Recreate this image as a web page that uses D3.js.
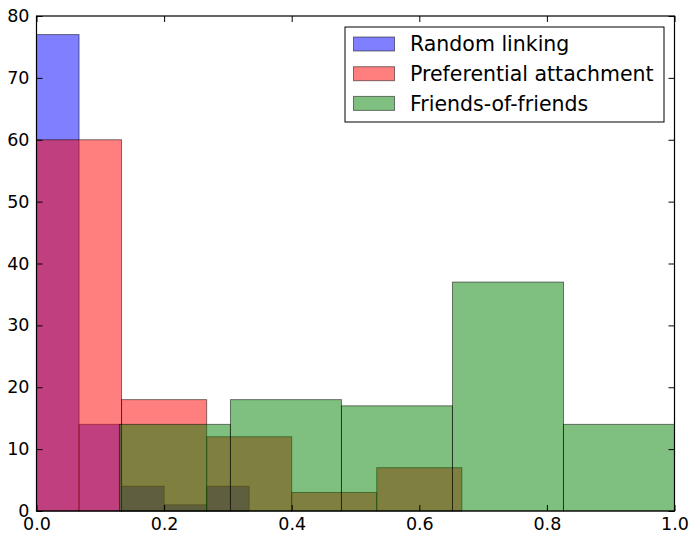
<!DOCTYPE html>
<html>
<head>
<meta charset="utf-8">
<script src="https://cdn.jsdelivr.net/npm/d3@7"></script>
<style>
  html, body { margin: 0; padding: 0; background: #fff; }
  svg { display: block; }
  text { font-family: "DejaVu Sans", sans-serif; fill: #000; }
</style>
</head>
<body>
<svg id="chart" width="689" height="534"></svg>
<script>
// ---- data ----
const seriesNames = ["Random linking", "Preferential attachment", "Friends-of-friends"];
const seriesColors = ["#0000ff", "#ff0000", "#008000"];

const randomEdges = [0, 0.0667, 0.1333, 0.2, 0.2667, 0.3333];
const randomCounts = [77, 14, 4, 1, 4];

const prefEdges = [0, 0.1333, 0.2667, 0.4, 0.5333, 0.6667];
const prefCounts = [60, 18, 12, 3, 7];

const fofEdges = [0.13, 0.304, 0.478, 0.652, 0.826, 1.0];
const fofCounts = [14, 18, 17, 37, 14];

const xTicks = [0, 0.2, 0.4, 0.6, 0.8, 1.0];
const yTicks = [0, 10, 20, 30, 40, 50, 60, 70, 80];

// ---- layout ----
const svg = d3.select("#chart");
const pLeft = 36.5, pRight = 674.5, pTop = 16, pBottom = 511;
const x = d3.scaleLinear().domain([0, 1]).range([pLeft, pRight]);
const y = d3.scaleLinear().domain([0, 80]).range([pBottom, pTop]);

const series = [
  { edges: randomEdges, counts: randomCounts },
  { edges: prefEdges, counts: prefCounts },
  { edges: fofEdges, counts: fofCounts }
];

const plot = svg.append("g");
series.forEach((s, i) => {
  const bins = s.counts.map((c, k) => ({ x0: s.edges[k], x1: s.edges[k + 1], c }));
  plot.selectAll(null).data(bins).enter().append("rect")
    .attr("x", d => x(d.x0))
    .attr("y", d => y(d.c))
    .attr("width", d => x(d.x1) - x(d.x0))
    .attr("height", d => y(0) - y(d.c))
    .attr("fill", seriesColors[i])
    .attr("fill-opacity", 0.5)
    .attr("stroke", "rgba(0,0,0,0.5)")
    .attr("stroke-width", 1);
});

// ---- axes (ticks inside, on all four sides) ----
const tickLen = 6;
const xAxisB = d3.axisBottom(x).tickValues(xTicks).tickSize(-tickLen).tickPadding(7)
  .tickFormat(d3.format(".1f"));
const xAxisT = d3.axisTop(x).tickValues(xTicks).tickSize(-tickLen).tickFormat("");
const yAxisL = d3.axisLeft(y).tickValues(yTicks).tickSize(-tickLen).tickPadding(7)
  .tickFormat(d3.format("d"));
const yAxisR = d3.axisRight(y).tickValues(yTicks).tickSize(-tickLen).tickFormat("");

function style(g) {
  g.select(".domain").remove();
  g.selectAll(".tick line").attr("stroke", "#000").attr("stroke-width", 1);
  g.selectAll(".tick text").style("font-size", "17.5px").style("font-family", "DejaVu Sans, sans-serif").attr("fill", "#000");
}
svg.append("g").attr("transform", `translate(0,${pBottom})`).call(xAxisB).call(style);
svg.append("g").attr("transform", `translate(0,${pTop})`).call(xAxisT).call(style);
svg.append("g").attr("transform", `translate(${pLeft},0)`).call(yAxisL).call(style);
svg.append("g").attr("transform", `translate(${pRight},0)`).call(yAxisR).call(style);

// frame
svg.append("rect")
  .attr("x", pLeft).attr("y", pTop)
  .attr("width", pRight - pLeft).attr("height", pBottom - pTop)
  .attr("fill", "none").attr("stroke", "#000").attr("stroke-width", 1.2);

// ---- legend ----
const lg = svg.append("g");
lg.append("rect").attr("x", 345).attr("y", 27).attr("width", 319).attr("height", 95)
  .attr("fill", "#fff").attr("stroke", "#000").attr("stroke-width", 1);
seriesNames.forEach((name, i) => {
  const cy = 44 + i * 29.7;
  lg.append("rect").attr("x", 353.5).attr("y", cy - 7).attr("width", 41).attr("height", 14)
    .attr("fill", seriesColors[i]).attr("fill-opacity", 0.5)
    .attr("stroke", "rgba(0,0,0,0.5)").attr("stroke-width", 1);
  lg.append("text").attr("x", 410).attr("y", cy).attr("dy", "0.36em")
    .style("font-size", "20.5px").text(name);
});
</script>
</body>
</html>
